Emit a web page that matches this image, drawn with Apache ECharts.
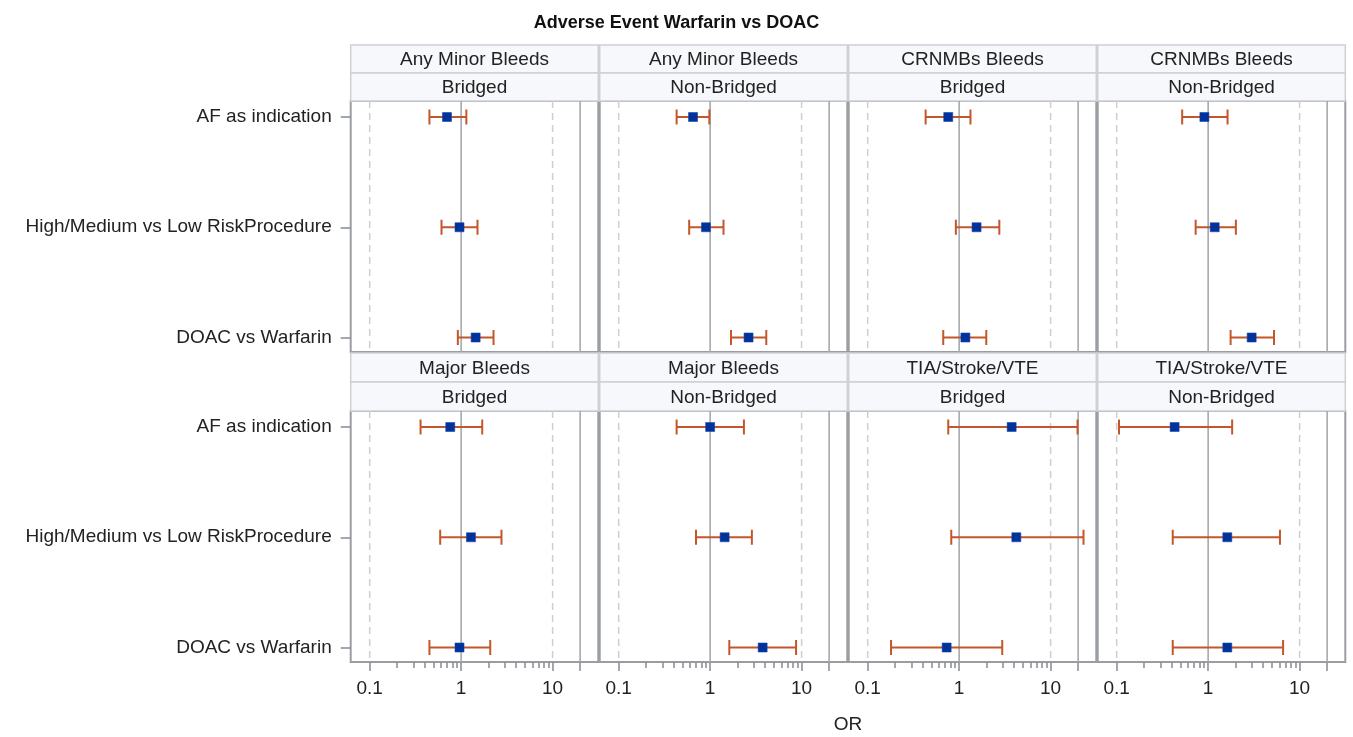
<!DOCTYPE html>
<html>
<head>
<meta charset="utf-8">
<title>Adverse Event Warfarin vs DOAC</title>
<script src="https://cdn.jsdelivr.net/npm/echarts@6/dist/echarts.min.js"></script>
<style>
  html, body { margin: 0; padding: 0; background: #fff; }
  #chart { width: 1353px; height: 737px; }
</style>
</head>
<body>
<div id="chart"></div>
<script>
// rows of every panel (top to bottom)
const rowLabels = ['AF as indication', 'High/Medium vs Low RiskProcedure', 'DOAC vs Warfarin']

// panels, left to right then top to bottom
const outcomeLabels = ['Any Minor Bleeds', 'Any Minor Bleeds', 'CRNMBs Bleeds', 'CRNMBs Bleeds',
  'Major Bleeds', 'Major Bleeds', 'TIA/Stroke/VTE', 'TIA/Stroke/VTE']
const groupLabels = ['Bridged', 'Non-Bridged', 'Bridged', 'Non-Bridged',
  'Bridged', 'Non-Bridged', 'Bridged', 'Non-Bridged']

// odds ratio and 95% CI, one array per panel, one value per row
const orValues = [
  [0.70, 0.96, 1.44],
  [0.65, 0.90, 2.63],
  [0.76, 1.55, 1.17],
  [0.91, 1.18, 2.99],
  [0.76, 1.28, 0.96],
  [1.00, 1.44, 3.75],
  [3.75, 4.22, 0.73],
  [0.43, 1.62, 1.62],
]
const lowerCI = [
  [0.45, 0.61, 0.92],
  [0.43, 0.59, 1.69],
  [0.43, 0.92, 0.67],
  [0.52, 0.73, 1.76],
  [0.36, 0.59, 0.45],
  [0.43, 0.70, 1.62],
  [0.76, 0.82, 0.18],
  [0.106, 0.41, 0.41],
]
const upperCI = [
  [1.14, 1.51, 2.26],
  [0.98, 1.40, 4.11],
  [1.33, 2.75, 1.98],
  [1.63, 2.01, 5.25],
  [1.70, 2.76, 2.08],
  [2.34, 2.86, 8.70],
  [19.7, 22.9, 2.96],
  [1.83, 6.10, 6.60],
]

// x axis
const majorTicks = [0.1, 1, 10, 20]
const tickLabels = [0.1, 1, 10]
const minorTicks = [0.2, 0.3, 0.4, 0.5, 0.6, 0.7, 0.8, 0.9, 2, 3, 4, 5, 6, 7, 8, 9]
const refSolid = [1, 20]
const refDashed = [0.1, 10]
const X_MIN = 0.062
const X_MAX = 31.6

// layout
const FONT = 'Liberation Sans, Arial, sans-serif'
const PLOT_LEFT = 350.7
const PITCH = 249
const PLOT_W = 247.6
const FRAME_TOP = [101, 411]
const FRAME_H = 251
const HEADER_TOP = [45, 353]
const DATA_INSET = 16
const DATA_H = 220.5
const BAR_COLOR = '#C4562B'
const DOT_COLOR = '#00329B'
const BORDER_COLOR = '#9A9EA3'
const TICK_COLOR = '#8E9195'

const grid = []
const xAxis = []
const yAxis = []
const series = []
const graphic = []

function renderErrorBar(params, api) {
  const lo = api.coord([api.value(0), api.value(2)])
  const hi = api.coord([api.value(1), api.value(2)])
  const cap = 7.5
  const style = { stroke: BAR_COLOR, lineWidth: 2 }
  return {
    type: 'group',
    children: [
      { type: 'line', shape: { x1: lo[0], y1: lo[1], x2: hi[0], y2: hi[1] }, style },
      { type: 'line', shape: { x1: lo[0], y1: lo[1] - cap, x2: lo[0], y2: lo[1] + cap }, style },
      { type: 'line', shape: { x1: hi[0], y1: hi[1] - cap, x2: hi[0], y2: hi[1] + cap }, style },
    ],
  }
}

function renderRefLine(params, api) {
  const top = api.coord([api.value(0), 1])
  const bottom = api.coord([api.value(0), 0])
  const dashed = api.value(1) === 1
  return {
    type: 'line',
    shape: { x1: top[0], y1: top[1], x2: bottom[0], y2: bottom[1] },
    style: dashed
      ? { stroke: '#CFCFCF', lineWidth: 1.5, lineDash: [7, 5] }
      : { stroke: '#A6A9AD', lineWidth: 1.6 },
  }
}

outcomeLabels.forEach((outcome, p) => {
  const row = Math.floor(p / 4)
  const col = p % 4
  const left = PLOT_LEFT + col * PITCH
  const isBottom = row === 1
  const isLeft = col === 0

  // frame grid: border, reference lines, x axis ticks/labels
  const frameGrid = grid.length
  grid.push({
    left, top: FRAME_TOP[row], width: PLOT_W, height: FRAME_H,
    show: true, borderColor: BORDER_COLOR, borderWidth: 2, backgroundColor: '#fff',
  })
  const frameX = xAxis.length
  xAxis.push({
    type: 'log', gridIndex: frameGrid, min: X_MIN, max: X_MAX, position: 'bottom',
    axisLine: { show: false },
    splitLine: { show: false },
    axisTick: { show: isBottom, customValues: majorTicks, length: 9, lineStyle: { color: TICK_COLOR, width: 1.6 } },
    axisLabel: {
      show: isBottom, customValues: tickLabels, margin: 17,
      fontFamily: FONT, fontSize: 19, color: '#222',
      formatter: v => String(v),
    },
  })
  xAxis.push({
    type: 'log', gridIndex: frameGrid, min: X_MIN, max: X_MAX, position: 'bottom', offset: 0,
    axisLine: { show: false },
    splitLine: { show: false },
    axisTick: { show: isBottom, customValues: minorTicks, length: 6, lineStyle: { color: TICK_COLOR, width: 1.6 } },
    axisLabel: { show: false },
  })
  const frameY = yAxis.length
  yAxis.push({ type: 'value', gridIndex: frameGrid, min: 0, max: 1, show: false })

  series.push({
    type: 'custom',
    xAxisIndex: frameX, yAxisIndex: frameY,
    renderItem: renderRefLine,
    silent: true,
    data: refDashed.map(v => [v, 1]).concat(refSolid.map(v => [v, 0])),
  })

  // data grid: rows placed on a category axis
  const dataGrid = grid.length
  grid.push({ left, top: FRAME_TOP[row] + DATA_INSET, width: PLOT_W, height: DATA_H })
  const dataX = xAxis.length
  xAxis.push({ type: 'log', gridIndex: dataGrid, min: X_MIN, max: X_MAX, show: false })
  const dataY = yAxis.length
  yAxis.push({
    type: 'category', gridIndex: dataGrid, data: rowLabels, inverse: true, boundaryGap: false,
    show: isLeft,
    axisLine: { show: false },
    axisTick: { show: true, length: 10, lineStyle: { color: TICK_COLOR, width: 1.6 } },
    axisLabel: { fontFamily: FONT, fontSize: 19, color: '#222', margin: 19 },
    splitLine: { show: false },
  })

  series.push({
    type: 'custom',
    xAxisIndex: dataX, yAxisIndex: dataY,
    renderItem: renderErrorBar,
    encode: { x: [0, 1], y: 2 },
    data: rowLabels.map((_, r) => [lowerCI[p][r], upperCI[p][r], r]),
  })
  series.push({
    type: 'scatter',
    xAxisIndex: dataX, yAxisIndex: dataY,
    symbol: 'rect', symbolSize: 9,
    itemStyle: { color: DOT_COLOR, opacity: 1, borderColor: '#1A47A8', borderWidth: 0.6 },
    data: rowLabels.map((_, r) => [orValues[p][r], r]),
    z: 5,
  })

  // strip headers
  const hTop = HEADER_TOP[row]
  const hH = (FRAME_TOP[row] - hTop) / 2
  ;[outcome, groupLabels[p]].forEach((text, k) => {
    graphic.push({
      type: 'rect',
      shape: { x: left, y: hTop + k * hH, width: PLOT_W, height: hH },
      style: { fill: '#F7F8FC', stroke: '#CDD0D4', lineWidth: 1.5 },
      z: 1,
    })
    graphic.push({
      type: 'text',
      x: left + PLOT_W / 2, y: hTop + k * hH + hH / 2 + 1,
      style: { text, fontFamily: FONT, fontSize: 19, fill: '#222', align: 'center', verticalAlign: 'middle' },
      z: 2,
    })
  })
})

graphic.push({
  type: 'text',
  x: PLOT_LEFT + (3 * PITCH + PLOT_W) / 2, y: 725,
  style: { text: 'OR', fontFamily: FONT, fontSize: 19, fill: '#222', align: 'center', verticalAlign: 'middle' },
})

const myChart = echarts.init(document.getElementById('chart'))
myChart.setOption({
  backgroundColor: '#fff',
  animation: false,
  title: {
    text: 'Adverse Event Warfarin vs DOAC',
    left: 'center',
    top: 9,
    textStyle: { fontFamily: FONT, fontSize: 18, fontWeight: 'bold', color: '#111' },
  },
  grid,
  xAxis,
  yAxis,
  series,
  graphic,
})
</script>
</body>
</html>
